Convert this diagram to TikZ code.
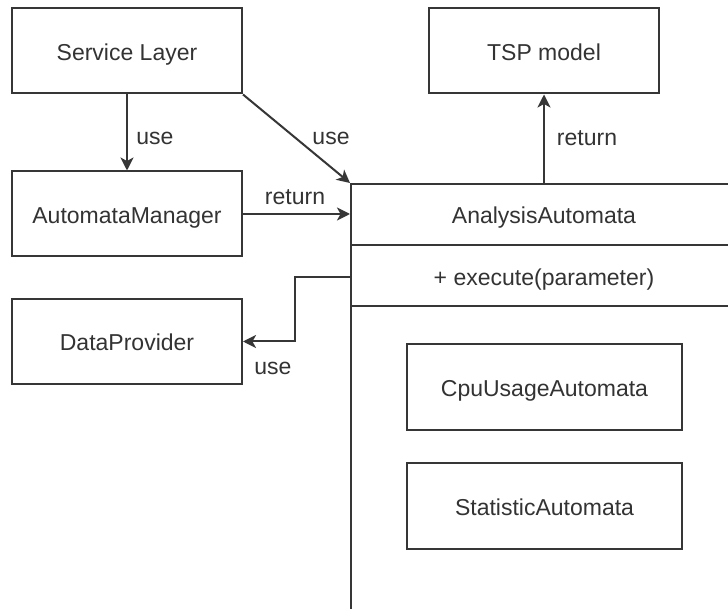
\documentclass[tikz,border=0pt]{standalone}
\usepackage{fontspec}
\setmainfont{Liberation Sans}
\usetikzlibrary{arrows.meta}
\definecolor{edge}{HTML}{363636}
\definecolor{ink}{HTML}{333333}
\tikzset{
  box/.style={draw=edge, line width=2pt, rectangle, inner sep=0pt,
    minimum width=230pt, minimum height=85pt, text=ink,
    text height=19pt, text depth=0pt,
    font=\fontsize{23}{27}\selectfont},
  innerbox/.style={box, minimum width=275pt, minimum height=86pt},
  txt/.style={text=ink, inner sep=0pt, font=\fontsize{23}{27}\selectfont},
  title/.style={txt, text height=19pt, text depth=0pt},
  link/.style={draw=edge, line width=2pt,
    -{Stealth[length=13pt,width=13pt,inset=3.5pt]}},
}
\begin{document}
\begin{tikzpicture}[x=1pt,y=-1pt]
  \useasboundingbox (0,0) rectangle (728,609);
  \fill[white] (0,0) rectangle (728,609);

  % left column
  \node[box] (sl) at (127,51) {Service Layer};
  \node[box] (am) at (127,214) {AutomataManager};
  \node[box] (dp) at (127,341.5) {DataProvider};

  % model box
  \node[box] (tsp) at (544,51) {TSP model};

  % class box (runs past the page edge)
  \begin{scope}
    \clip (0,0) rectangle (728,609);
    \node[draw=edge, line width=2pt, rectangle, inner sep=0pt,
      minimum width=388pt, minimum height=440pt, anchor=north west]
      (aa) at (350,183) {};
    \draw[edge, line width=2pt] (350,245) -- (738,245);
    \draw[edge, line width=2pt] (350,306) -- (738,306);
  \end{scope}
  \node[title] (aaname) at (544,214) {AnalysisAutomata};
  \node[title] (aaop) at (544,276) {+ execute(parameter)};
  \node[innerbox] (cpu) at (544.5,387) {CpuUsageAutomata};
  \node[innerbox] (stat) at (544.5,506) {StatisticAutomata};

  % connectors
  \draw[link] (sl.south) -- (am.north);
  \node[txt] (l1) at (155,138) {use};

  \draw[link] (sl.south east) -- (aa.north west);
  \node[txt] (l2) at (331,138) {use};

  \draw[link] (am.east) -- (am.east -| aa.west);
  \node[txt] (l3) at (295,197) {return};

  \coordinate (tspout) at (544,183);
  \draw[link] (tspout) -- (tsp.south);
  \node[txt] (l4) at (587,138) {return};

  \coordinate (dpout) at (350,277);
  \coordinate (dpbend) at (295,277);
  \draw[link] (dpout) -- (dpbend) |- (dp.east);
  \node[txt] (l5) at (273,368) {use};
\end{tikzpicture}
\end{document}
